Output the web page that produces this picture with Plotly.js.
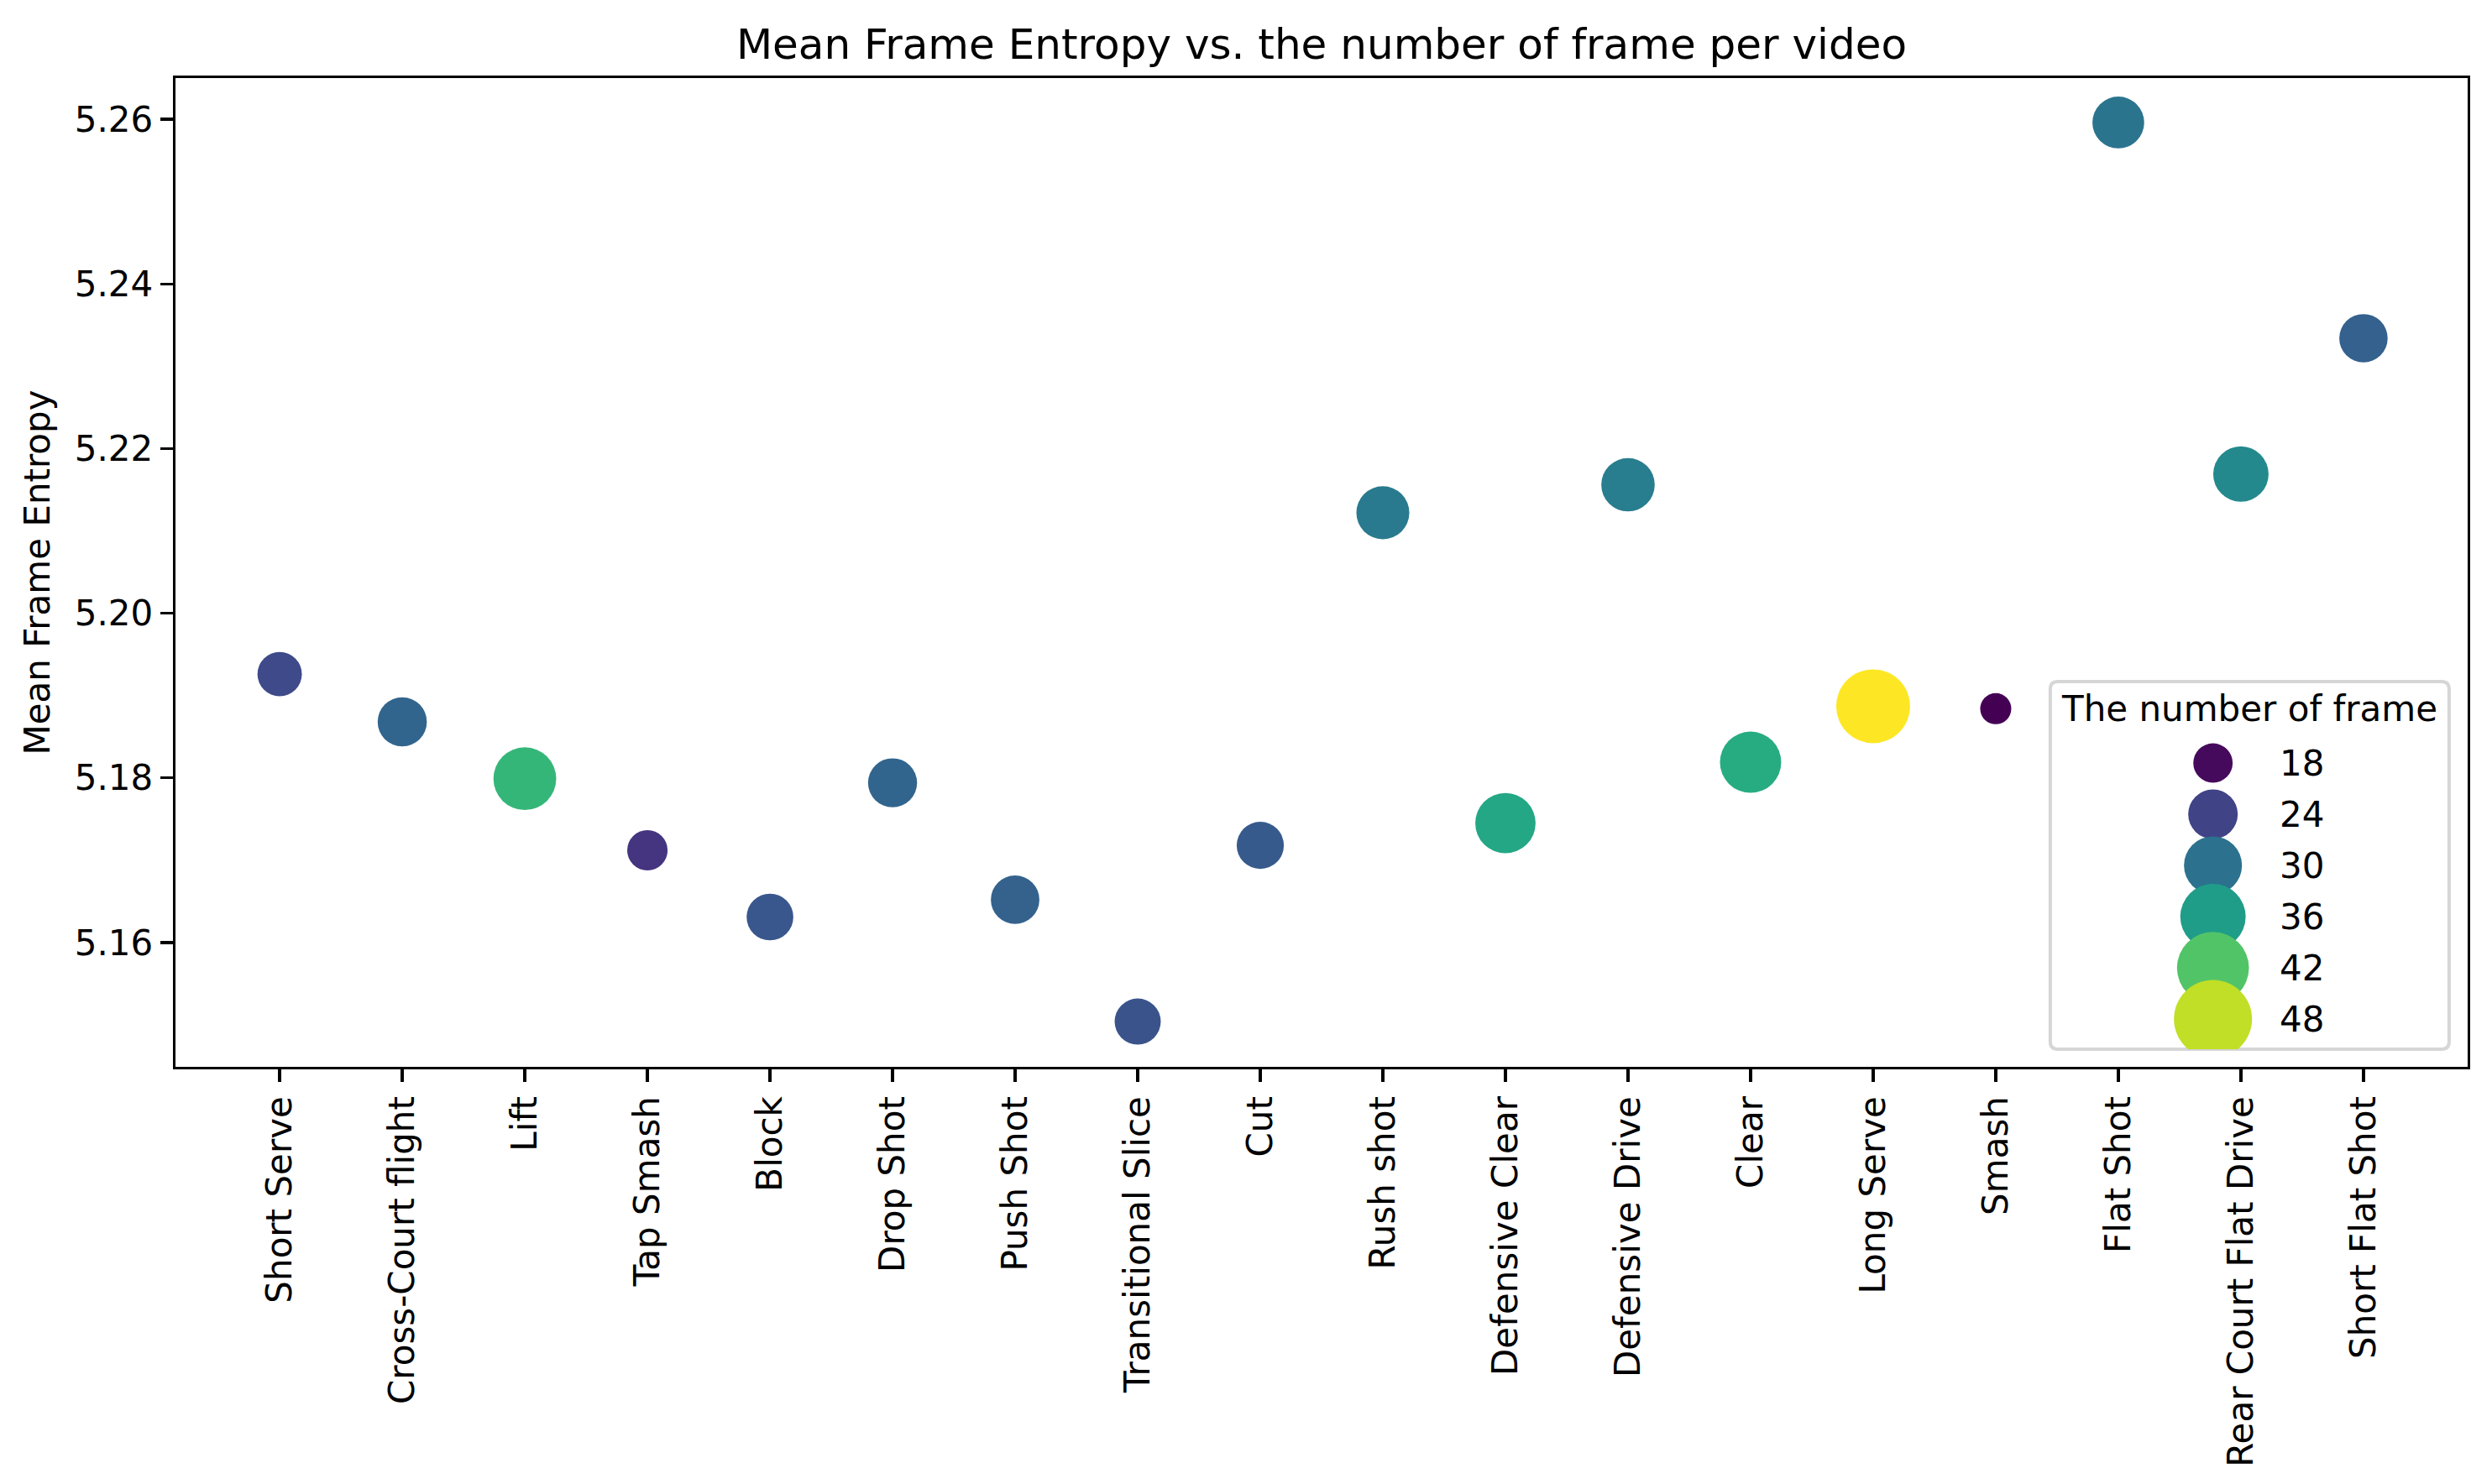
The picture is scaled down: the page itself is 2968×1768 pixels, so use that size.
<!DOCTYPE html>
<html>
<head>
<meta charset="utf-8">
<script src="https://cdn.plot.ly/plotly-3.0.1.min.js"></script>
<style>
  html, body { margin: 0; padding: 0; background: #fff; }
  #chart { width: 2968px; height: 1768px; }
</style>
</head>
<body>
<div id="chart"></div>
<script>
// shot types, in plotting order
var shots = ['Short Serve', 'Cross-Court flight', 'Lift', 'Tap Smash', 'Block', 'Drop Shot',
  'Push Shot', 'Transitional Slice', 'Cut', 'Rush shot', 'Defensive Clear', 'Defensive Drive',
  'Clear', 'Long Serve', 'Smash', 'Flat Shot', 'Rear Court Flat Drive', 'Short Flat Shot'];

// mean frame entropy per shot type
var entropy = [5.1926, 5.1868, 5.1799, 5.1712, 5.1631, 5.1794,
  5.1652, 5.1504, 5.1718, 5.2122, 5.1745, 5.2156,
  5.1819, 5.1887, 5.1884, 5.2596, 5.2169, 5.2334];

// mean number of frames per video (colour + size)
var frames = [24.8, 28.2, 39.7, 22.2, 26.4, 28.1,
  27.7, 26.0, 26.7, 31.1, 37.4, 31.5,
  38.3, 51.2, 17.2, 30.2, 33.1, 27.6];

// legend entries
var legendFrames = [18, 24, 30, 36, 42, 48];
var legendTitle = 'The number of frame';

var fMin = Math.min.apply(null, frames);
var fMax = Math.max.apply(null, frames);

// marker area grows linearly with the value (like seaborn sizes)
function diam(v, dLo, dHi) {
  var t = (v - fMin) / (fMax - fMin);
  return Math.sqrt(dLo * dLo + t * (dHi * dHi - dLo * dLo));
}

var FONT = 'DejaVu Sans, Arial, sans-serif';

var points = {
  x: shots,
  y: entropy,
  type: 'scatter',
  mode: 'markers',
  xaxis: 'x', yaxis: 'y',
  marker: {
    color: frames,
    colorscale: 'Viridis',
    cmin: fMin, cmax: fMax,
    showscale: false,
    size: frames.map(function (v) { return diam(v, 37, 88); }),
    sizemode: 'diameter',
    opacity: 1,
    line: {width: 0}
  },
  hoverinfo: 'x+y+text',
  text: frames.map(String),
  showlegend: false
};

// size legend drawn on its own small hidden axes
var legendMarks = {
  x: legendFrames.map(function () { return 0.408; }),
  y: legendFrames.map(function (v, i) { return i; }),
  type: 'scatter',
  mode: 'markers',
  xaxis: 'x2', yaxis: 'y2',
  marker: {
    color: legendFrames,
    colorscale: 'Viridis',
    cmin: fMin, cmax: fMax,
    showscale: false,
    size: legendFrames.map(function (v) { return diam(v, 45, 96.6); }),
    opacity: 1,
    line: {width: 0}
  },
  hoverinfo: 'skip',
  showlegend: false
};

var data = [points, legendMarks];

// legend box (paper coords), rounded corners
var bx0 = 0.8179, bx1 = 0.9919, by0 = 0.0178, by1 = 0.3896;
var rx = 9 / 2730, ry = 9 / 1178;
var boxPath = 'M ' + (bx0 + rx) + ',' + by1 +
  ' L ' + (bx1 - rx) + ',' + by1 + ' Q ' + bx1 + ',' + by1 + ' ' + bx1 + ',' + (by1 - ry) +
  ' L ' + bx1 + ',' + (by0 + ry) + ' Q ' + bx1 + ',' + by0 + ' ' + (bx1 - rx) + ',' + by0 +
  ' L ' + (bx0 + rx) + ',' + by0 + ' Q ' + bx0 + ',' + by0 + ' ' + bx0 + ',' + (by0 + ry) +
  ' L ' + bx0 + ',' + (by1 - ry) + ' Q ' + bx0 + ',' + by1 + ' ' + (bx0 + rx) + ',' + by1 + ' Z';

var annotations = legendFrames.map(function (v, i) {
  return {
    xref: 'x2', yref: 'y2', x: 0.571, y: i,
    text: String(v), showarrow: false,
    xanchor: 'left', yanchor: 'middle',
    font: {family: FONT, size: 42, color: '#000'}
  };
});
annotations.push({
  xref: 'x2', yref: 'y2', x: 0.5, y: -1.05,
  text: legendTitle, showarrow: false,
  xanchor: 'center', yanchor: 'middle',
  font: {family: FONT, size: 42, color: '#000'}
});

var layout = {
  width: 2968, height: 1768,
  margin: {l: 209, r: 29, t: 93, b: 497},
  paper_bgcolor: '#fff', plot_bgcolor: 'rgba(0,0,0,0)',
  font: {family: FONT, size: 42, color: '#000'},
  title: {
    text: 'Mean Frame Entropy vs. the number of frame per video',
    font: {family: FONT, size: 50, color: '#000'},
    x: 0.5, xref: 'paper',
    y: 1 - 52 / 1768, yref: 'container', yanchor: 'middle'
  },
  xaxis: {
    type: 'category',
    range: [-0.85, 17.85],
    tickangle: -90,
    ticks: 'outside', ticklen: 15, tickwidth: 3.3, tickcolor: '#000',
    showline: true, linewidth: 3.3, linecolor: '#000', mirror: true,
    showgrid: false, zeroline: false,
    tickfont: {family: FONT, size: 42, color: '#000'}
  },
  yaxis: {
    range: [5.1449, 5.2650],
    tick0: 5.16, dtick: 0.02, tickformat: '.2f',
    ticks: 'outside', ticklen: 15, tickwidth: 3.3, tickcolor: '#000',
    showline: true, linewidth: 3.3, linecolor: '#000', mirror: true,
    showgrid: false, zeroline: false,
    tickfont: {family: FONT, size: 42, color: '#000'},
    title: {text: 'Mean Frame Entropy', standoff: 17,
            font: {family: FONT, size: 42, color: '#000'}}
  },
  xaxis2: {
    domain: [bx0, bx1], range: [0, 1], anchor: 'y2',
    visible: false, fixedrange: true
  },
  yaxis2: {
    domain: [by0, by1], range: [5.59, -1.59], anchor: 'x2',
    visible: false, fixedrange: true
  },
  shapes: [{
    type: 'path', xref: 'paper', yref: 'paper', layer: 'below',
    path: boxPath,
    fillcolor: 'rgba(255,255,255,0.8)',
    line: {color: '#d6d6d6', width: 4}
  }],
  annotations: annotations
};

Plotly.newPlot('chart', data, layout, {displayModeBar: false, staticPlot: true});
</script>
</body>
</html>
